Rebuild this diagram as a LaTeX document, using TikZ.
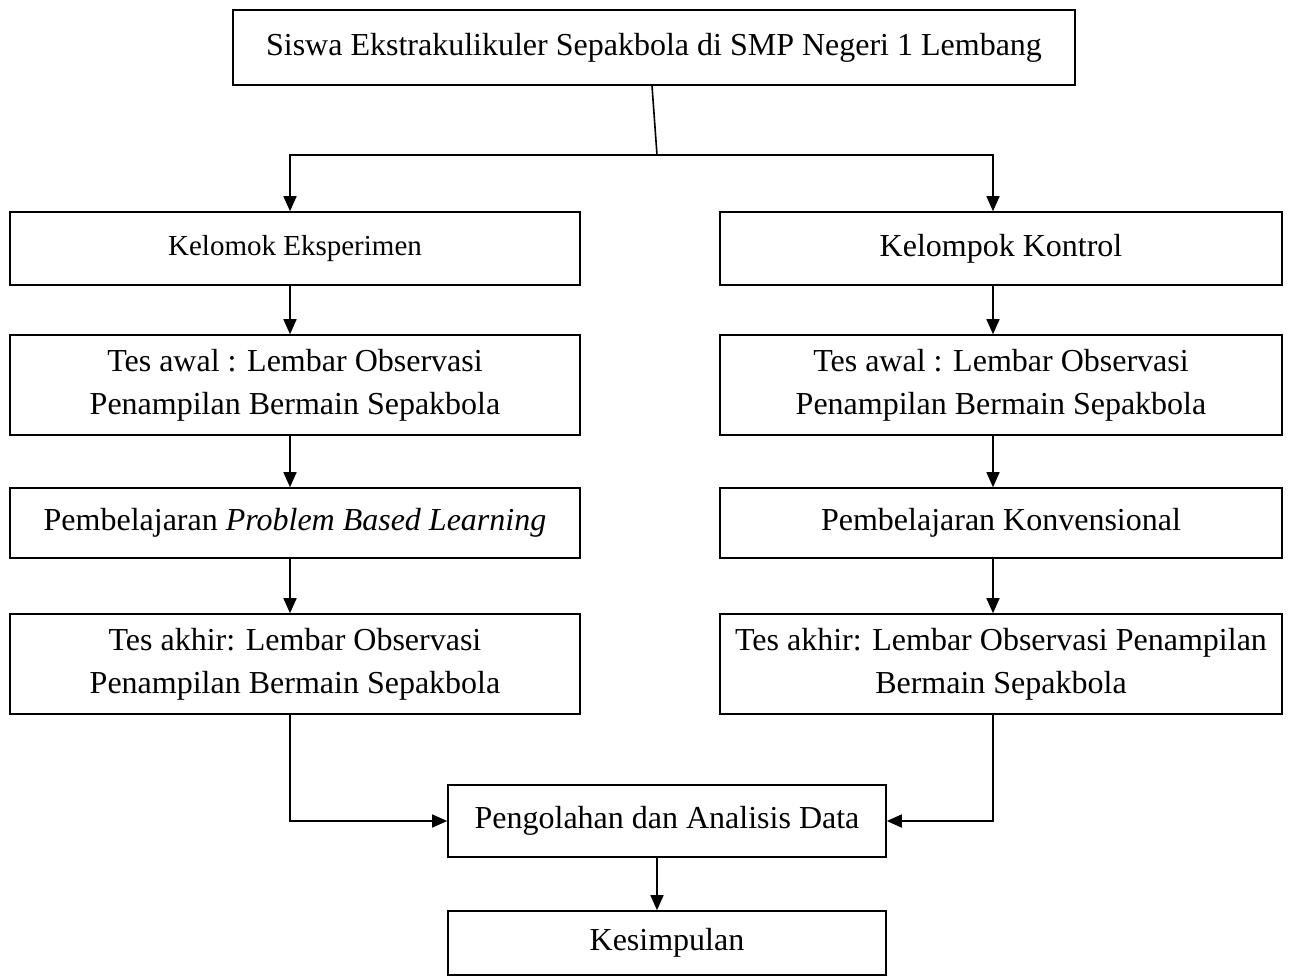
\documentclass[tikz,border=0pt]{standalone}
\usepackage{fontspec}
\setmainfont{Liberation Serif}
\usetikzlibrary{arrows.meta}
\begin{document}
\begin{tikzpicture}[x=1pt,y=-1pt,
  box/.style={draw=black, line width=1.6pt, rectangle, inner sep=0pt, align=center,
    font=\fontsize{32pt}{43pt}\selectfont},
  conn/.style={draw=black, line width=1.6pt},
  arr/.style={conn, -{Triangle[length=15pt,width=13pt]}}]
\useasboundingbox (0,0) rectangle (1296,980);
\fill[white] (0,0) rectangle (1296,980);
% nodes
\node[box, minimum width=842pt, minimum height=75pt] (top) at (654,47.5)
  {Siswa Ekstrakulikuler Sepakbola di SMP Negeri 1 Lembang};
\node[box, minimum width=570pt, minimum height=73pt,
  font=\fontsize{29pt}{39pt}\selectfont] (k1) at (295,248.5)
  {\raisebox{6pt}{Kelomok Eksperimen}};
\node[box, minimum width=562pt, minimum height=73pt] (r1) at (1001,248.5)
  {\raisebox{6pt}{Kelompok Kontrol}};
\node[box, minimum width=570pt, minimum height=100pt] (k2) at (295,385)
  {Tes awal : Lembar Observasi\\Penampilan Bermain Sepakbola};
\node[box, minimum width=562pt, minimum height=100pt] (r2) at (1001,385)
  {Tes awal : Lembar Observasi\\Penampilan Bermain Sepakbola};
\node[box, minimum width=570pt, minimum height=70pt] (k3) at (295,523)
  {Pembelajaran \textit{Problem Based Learning}};
\node[box, minimum width=562pt, minimum height=70pt] (r3) at (1001,523)
  {Pembelajaran Konvensional};
\node[box, minimum width=570pt, minimum height=100pt] (k4) at (295,664)
  {Tes akhir: Lembar Observasi\\Penampilan Bermain Sepakbola};
\node[box, minimum width=562pt, minimum height=100pt] (r4) at (1001,664)
  {Tes akhir: Lembar Observasi Penampilan\\Bermain Sepakbola};
\node[box, minimum width=438pt, minimum height=72pt] (pa) at (667,821)
  {Pengolahan dan Analisis Data};
\node[box, minimum width=438pt, minimum height=64pt] (ks) at (667,943)
  {Kesimpulan};
% helper coordinates
\coordinate (lx) at (290,0);
\coordinate (rx) at (993,0);
\coordinate (j) at (657,155);
% connectors
\draw[conn] ([xshift=-2pt]top.south) -- (j);
\draw[arr] (j) -| (k1.north -| lx);
\draw[arr] (j) -| (r1.north -| rx);
\draw[arr] (k1.south -| lx) -- (k2.north -| lx);
\draw[arr] (k2.south -| lx) -- (k3.north -| lx);
\draw[arr] (k3.south -| lx) -- (k4.north -| lx);
\draw[arr] (r1.south -| rx) -- (r2.north -| rx);
\draw[arr] (r2.south -| rx) -- (r3.north -| rx);
\draw[arr] (r3.south -| rx) -- (r4.north -| rx);
\draw[arr] (k4.south -| lx) |- (pa.west);
\draw[arr] (r4.south -| rx) |- (pa.east);
\draw[arr] ([xshift=-10pt]pa.south) -- ([xshift=-10pt]ks.north);
\end{tikzpicture}
\end{document}
